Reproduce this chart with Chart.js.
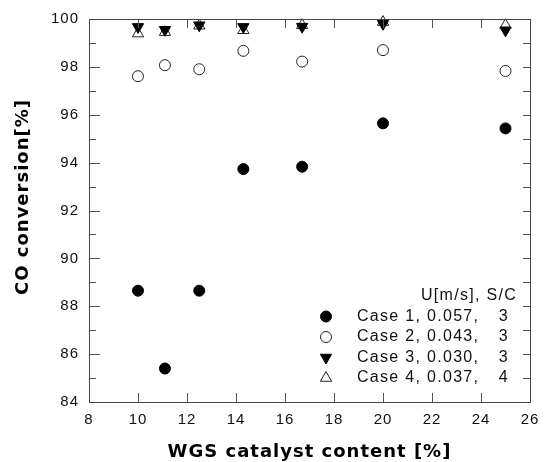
<!DOCTYPE html>
<html>
<head>
<meta charset="utf-8">
<script src="https://cdn.jsdelivr.net/npm/chart.js@4.4.1/dist/chart.umd.min.js"></script>
<style>
  html, body { margin: 0; padding: 0; background: #fff; }
</style>
</head>
<body>
<canvas id="myChart" width="549" height="462"></canvas>
<script>
'use strict';

// WGS catalyst content [%]
var catalyst = [10, 11.1, 12.5, 14.3, 16.7, 20, 25];
// CO conversion [%] per case
var case1 = [88.65, 85.4, 88.65, 93.73, 93.83, 95.64, 95.43];
var case2 = [97.61, 98.07, 97.9, 98.67, 98.22, 98.7, 97.83];
var case3 = [99.67, 99.55, 99.74, 99.67, 99.68, 99.8, 99.53];
var case4 = [99.39, 99.45, 99.72, 99.53, 99.74, 99.87, 99.74];
var caseNames = ['Case 1', 'Case 2', 'Case 3', 'Case 4'];
var velocities = ['0.057', '0.043', '0.030', '0.037'];
var scRatios = ['3', '3', '3', '4'];
var legendHeader = 'U[m/s], S/C';
var xTitle = 'WGS catalyst content [%]';
var yTitle = 'CO conversion[%]';
var xRange = [8, 26];
var yRange = [84, 100];

function toPoints(ys) {
  return catalyst.map(function (x, i) { return { x: x, y: ys[i] }; });
}

var tickFont = '"Liberation Sans", Arial, sans-serif';
var titleFont = 'bold 18px "DejaVu Sans", Verdana, sans-serif';

// frame, inside ticks, axis titles, legend
var decorations = {
  id: 'decorations',
  beforeUpdate: function (chart) { chart.ctx.letterSpacing = '1px'; },
  beforeDraw: function (chart) { chart.ctx.letterSpacing = '1px'; },
  afterDraw: function (chart) {
    var ctx = chart.ctx;
    var a = chart.chartArea;
    var xs = chart.scales.x, ys = chart.scales.y;
    ctx.save();
    ctx.letterSpacing = '0px';
    ctx.strokeStyle = '#444';
    ctx.lineWidth = 1;
    ctx.strokeRect(Math.round(a.left) + 0.5, Math.round(a.top) + 0.5,
      Math.round(a.right - a.left), Math.round(a.bottom - a.top));

    ctx.strokeStyle = '#555';
    ctx.beginPath();
    for (var v = xRange[0] + 2; v < xRange[1]; v += 2) {
      var px = Math.round(xs.getPixelForValue(v)) + 0.5;
      ctx.moveTo(px, a.bottom); ctx.lineTo(px, a.bottom - 9);
      ctx.moveTo(px, a.top); ctx.lineTo(px, a.top + 9);
    }
    for (var w = yRange[0] + 1; w < yRange[1]; w += 1) {
      var py = Math.round(ys.getPixelForValue(w)) + 0.5;
      var len = (w % 2 === 0) ? 11 : 7;
      ctx.moveTo(a.left, py); ctx.lineTo(a.left + len, py);
      ctx.moveTo(a.right, py); ctx.lineTo(a.right - 7, py);
    }
    ctx.stroke();

    // axis titles
    ctx.fillStyle = '#000';
    ctx.font = titleFont;
    ctx.letterSpacing = '1px';
    ctx.textAlign = 'center';
    ctx.textBaseline = 'middle';
    ctx.fillText(xTitle, (a.left + a.right) / 2, 452);
    ctx.save();
    ctx.translate(23, 197);
    ctx.rotate(-Math.PI / 2);
    ctx.fillText(yTitle, 0, 0);
    ctx.restore();

    // legend
    var right = a.right - 13;
    var markX = a.left + 237;
    var textX = a.left + 268;
    var top = a.top + 277;
    ctx.font = '16px ' + tickFont;
    ctx.letterSpacing = '1.3px';
    ctx.fillStyle = '#111';
    ctx.textAlign = 'right';
    ctx.fillText(legendHeader, right, top);
    chart.data.datasets.forEach(function (ds, i) {
      var y = top + 20.5 * (i + 1);
      ctx.save();
      ctx.fillStyle = ds.backgroundColor;
      ctx.strokeStyle = ds.borderColor;
      ctx.lineWidth = ds.borderWidth;
      Chart.helpers.drawPoint(ctx, {
        pointStyle: ds.pointStyle, radius: ds.pointRadius,
        borderWidth: ds.borderWidth, rotation: ds.pointRotation || 0
      }, markX, y);
      ctx.restore();
      ctx.fillStyle = '#111';
      ctx.textAlign = 'left';
      ctx.fillText(caseNames[i] + ', ' + velocities[i] + ',', textX, y);
      ctx.textAlign = 'right';
      ctx.fillText(scRatios[i], right - 8, y);
    });
    ctx.restore();
  }
};

var ctx = document.getElementById('myChart');
var chart = new Chart(ctx, {
  type: 'scatter',
  data: {
    datasets: [{
      label: caseNames[0],
      data: toPoints(case1),
      pointStyle: 'circle', pointRadius: 5.5,
      backgroundColor: '#000', borderColor: '#000', borderWidth: 1,
      clip: false
    }, {
      label: caseNames[1],
      data: toPoints(case2),
      pointStyle: 'circle', pointRadius: 5.5,
      backgroundColor: '#fff', borderColor: '#222', borderWidth: 1,
      clip: false
    }, {
      label: caseNames[2],
      data: toPoints(case3),
      pointStyle: 'triangle', pointRadius: 6.5, pointRotation: 180,
      backgroundColor: '#000', borderColor: '#000', borderWidth: 1,
      clip: false
    }, {
      label: caseNames[3],
      data: toPoints(case4),
      pointStyle: 'triangle', pointRadius: 6.5,
      backgroundColor: '#fff', borderColor: '#222', borderWidth: 1,
      clip: false
    }]
  },
  options: {
    responsive: false,
    animation: false,
    events: [],
    layout: { padding: { top: 17, right: 19, left: 0, bottom: 0 } },
    plugins: {
      legend: { display: false },
      tooltip: { enabled: false }
    },
    scales: {
      x: {
        type: 'linear',
        min: xRange[0], max: xRange[1],
        grid: { display: false, drawTicks: false },
        border: { display: false },
        ticks: { stepSize: 2, padding: 9, color: '#111', font: { family: tickFont, size: 15 } },
        afterFit: function (s) { s.height = 60; }
      },
      y: {
        min: yRange[0], max: yRange[1],
        grid: { display: false, drawTicks: false },
        border: { display: false },
        ticks: { stepSize: 2, padding: 10, color: '#111', font: { family: tickFont, size: 15 } },
        afterFit: function (s) { s.width = 89; }
      }
    }
  },
  plugins: [decorations]
});
</script>
</body>
</html>
